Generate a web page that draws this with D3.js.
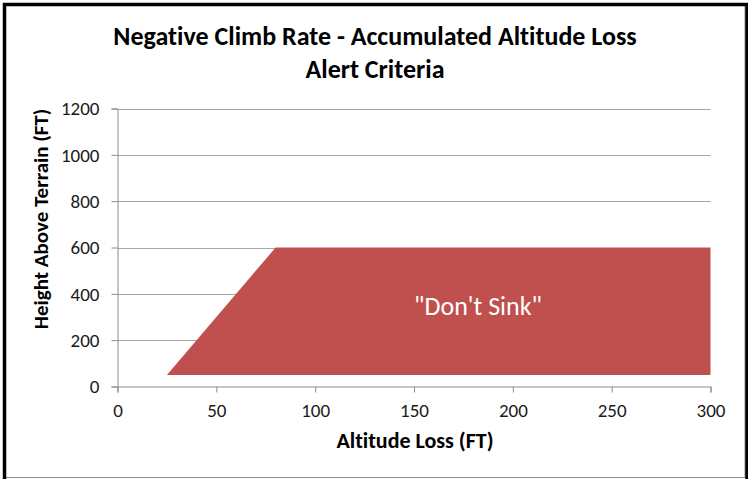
<!DOCTYPE html>
<html><head><meta charset="utf-8">
<script src="https://cdn.jsdelivr.net/npm/d3@7"></script>
<style>
html,body{margin:0;padding:0;background:#fff;}
svg{display:block;}
text{font-family:"Carlito","Liberation Sans Narrow","Liberation Sans",Arial,sans-serif;font-variant-ligatures:none;}
</style></head>
<body>
<script>
const titleLines = ["Negative Climb Rate - Accumulated Altitude Loss", "Alert Criteria"];
const xTicks = [0, 50, 100, 150, 200, 250, 300];
const yTicks = [0, 200, 400, 600, 800, 1000, 1200];
const regionX = [25, 80, 300, 300];
const regionY = [50, 600, 600, 50];
const regionLabel = "\"Don't Sink\"";
const xLabel = "Altitude Loss (FT)";
const yLabel = "Height Above Terrain (FT)";

const W = 748, H = 479;
const svg = d3.select("body").append("svg").attr("width", W).attr("height", H);

// frame
svg.append("rect").attr("x",0).attr("y",0).attr("width",W).attr("height",H).attr("fill","#fff");
svg.append("line").attr("x1",6).attr("x2",745).attr("y1",477.5).attr("y2",477.5).attr("stroke","#8c8c8c").attr("stroke-width",1);
svg.append("line").attr("x1",745).attr("x2",745).attr("y1",6).attr("y2",478).attr("stroke","#8c8c8c").attr("stroke-width",1);
svg.append("path").attr("d","M4.5,479 L4.5,4.5 L747,4.5 L747,479").attr("fill","none").attr("stroke","#000").attr("stroke-width",3.5);

const x = d3.scaleLinear().domain([0,300]).range([117.5,710.5]);
const y = d3.scaleLinear().domain([0,1200]).range([386.5,108.5]);

// gridlines
svg.append("g").selectAll("line").data(yTicks.filter(d=>d>0)).join("line")
  .attr("x1",x(0)).attr("x2",x(300)).attr("y1",d=>Math.round(y(d))+0.5).attr("y2",d=>Math.round(y(d))+0.5)
  .attr("stroke","#a6a6a6").attr("stroke-width",1);

// axes
const gx = svg.append("g").attr("transform",`translate(0,${y(0)})`)
  .call(d3.axisBottom(x).tickValues(xTicks).tickSize(6).tickPadding(11).tickFormat(d3.format("d")));
const gy = svg.append("g").attr("transform",`translate(${x(0)},0)`)
  .call(d3.axisLeft(y).tickValues(yTicks).tickSize(6).tickPadding(12).tickFormat(d3.format("d")));
[gx,gy].forEach(g=>{
  g.attr("font-family",null).attr("font-size",null);
  g.select(".domain").attr("stroke","#8c8c8c");
  g.selectAll(".tick line").attr("stroke","#8c8c8c");
  g.selectAll(".tick text").attr("fill","#1a1a1a").style("font-size","19px");
});
gy.selectAll(".tick text").attr("dy","0.33em");

// region polygon
const pts = regionX.map((v,i)=>[x(v), y(regionY[i])]);
svg.append("path").attr("d", d3.line()(pts)+"Z").attr("fill","#c0504d");

svg.append("text").attr("x",478).attr("y",306).attr("text-anchor","middle").attr("dominant-baseline","central")
  .attr("fill","#fff").style("font-size","26px").text(regionLabel);

// titles
svg.append("g").selectAll("text").data(titleLines).join("text")
  .attr("x",375).attr("y",(d,i)=>45+i*33).attr("text-anchor","middle")
  .attr("fill","#000").style("font-size","26px").style("font-weight","bold").text(d=>d);

svg.append("text").attr("x",415).attr("y",440).attr("text-anchor","middle").attr("dominant-baseline","central")
  .style("font-size","22px").style("font-weight","bold").text(xLabel);

svg.append("text").attr("transform","translate(41,219) rotate(-90)").attr("text-anchor","middle").attr("dominant-baseline","central")
  .style("font-size","21px").style("font-weight","bold").text(yLabel);
</script>
</body></html>
